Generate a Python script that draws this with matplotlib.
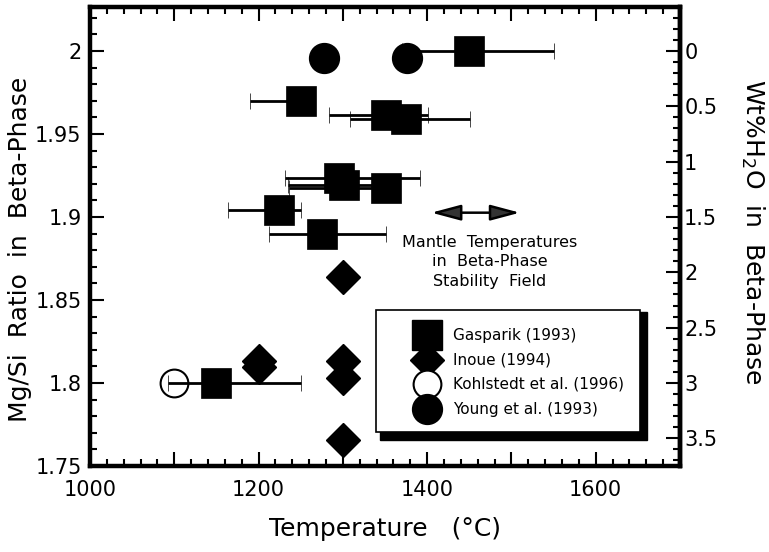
import matplotlib
matplotlib.use('Agg')
import matplotlib.pyplot as plt
import numpy as np
from matplotlib.patches import Rectangle
from matplotlib.ticker import MultipleLocator, FuncFormatter

# Gasparik (1993): temperature, Mg/Si ratio, error bar (minus / plus) in degC
gas_T = [1450, 1250, 1351, 1375, 1296, 1301, 1351, 1224, 1275, 1150]
gas_ratio = [2.000, 1.970, 1.9613, 1.9589, 1.9235, 1.9195, 1.9177, 1.9044, 1.8898, 1.800]
gas_err_lo = [80, 60, 67, 67, 65, 66, 115, 60, 63, 57]
gas_err_hi = [100, 0, 50, 76, 95, 50, 0, 26, 76, 100]

# Inoue (1994)
inoue_T = [1300, 1200, 1200, 1300, 1300, 1300]
inoue_ratio = [1.864, 1.8133, 1.8096, 1.8133, 1.8028, 1.7657]

# Kohlstedt et al. (1996)
kohl_T = [1100]
kohl_ratio = [1.800]

# Young et al. (1993)
young_T = [1278, 1376]
young_ratio = [1.996, 1.996]

legend_labels = ['Gasparik (1993)', 'Inoue (1994)',
                 'Kohlstedt et al. (1996)', 'Young et al. (1993)']

# mantle temperature range (arrow)
mantle_T = [1405, 1510]
mantle_ratio = 1.9026

water_ticks = [0, 0.5, 1, 1.5, 2, 2.5, 3, 3.5]


def ratio_to_water(r):
    return 15.0 * (2.0 - np.asarray(r))


def water_to_ratio(w):
    return 2.0 - np.asarray(w) / 15.0


def fmt_g(v, pos):
    return f'{v:g}'


def fmt_x(v, pos):
    return f'{v:.0f}' if int(round(v)) % 200 == 0 else ''


def plot():
    W, H = 769, 552
    fig = plt.figure(figsize=(W / 100, H / 100), dpi=100)
    ax = fig.add_axes([90 / W, 86 / H, 590 / W, 459 / H])
    ax.set_xlim(1000, 1700)
    ax.set_ylim(1.75, 2.0265)

    ax.plot(kohl_T, kohl_ratio, 'o', ms=20, mfc='white', mec='black', mew=1.5, zorder=2)
    ax.errorbar(gas_T, gas_ratio, xerr=[gas_err_lo, gas_err_hi], fmt='s', ms=22,
                mfc='black', mec='black', mew=0.5, ecolor='black', elinewidth=2,
                capsize=5.5, capthick=2.2, zorder=3)
    ax.plot(inoue_T, inoue_ratio, 'D', ms=17, color='black', zorder=3)
    ax.plot(young_T, young_ratio, 'o', ms=21.5, color='black', zorder=4)

    # mantle temperature arrow + text
    ax.annotate('', xy=(mantle_T[1], mantle_ratio), xytext=(mantle_T[0], mantle_ratio),
                arrowprops=dict(arrowstyle='<|-|>,head_length=0.9,head_width=0.24',
                                mutation_scale=20, fc='#333333', ec='black', lw=1.8,
                                shrinkA=0, shrinkB=0))
    ax.text(1474, 1.873, 'Mantle  Temperatures\nin  Beta-Phase\nStability  Field',
            ha='center', va='center', fontsize=11.5, linespacing=1.35)

    # axes styling
    for s in ax.spines.values():
        s.set_linewidth(3.2)
    ax.xaxis.set_major_locator(MultipleLocator(100))
    ax.xaxis.set_minor_locator(MultipleLocator(20))
    ax.xaxis.set_major_formatter(FuncFormatter(fmt_x))
    ax.yaxis.set_major_locator(MultipleLocator(0.05))
    ax.yaxis.set_minor_locator(MultipleLocator(0.01))
    ax.yaxis.set_major_formatter(FuncFormatter(fmt_g))
    ax.tick_params(which='both', direction='in', top=True, right=False, width=1.5)
    ax.tick_params(which='major', length=10, labelsize=15)
    ax.tick_params(which='minor', length=5)
    ax.tick_params(axis='x', pad=10)
    ax.tick_params(axis='y', pad=6)

    sec = ax.secondary_yaxis('right', functions=(ratio_to_water, water_to_ratio))
    sec.set_yticks(water_ticks)
    sec.yaxis.set_minor_locator(MultipleLocator(0.1))
    sec.yaxis.set_major_formatter(FuncFormatter(fmt_g))
    sec.tick_params(which='both', direction='in', width=1.5)
    sec.tick_params(which='major', length=10, labelsize=15, pad=3)
    sec.tick_params(which='minor', length=5)
    sec.spines['right'].set_linewidth(3.2)

    ax.set_xlabel('Temperature   (°C)', fontsize=18)
    ax.xaxis.set_label_coords(0.5, -0.112)
    fig.text(20 / W, 1 - 249 / H, 'Mg/Si  Ratio  in  Beta-Phase', rotation=90,
             ha='center', va='center', fontsize=18)
    fig.text(753 / W, 1 - 232 / H, r'Wt%H$_2$O  in  Beta-Phase', rotation=-90,
             ha='center', va='center', fontsize=18)

    # hand-made legend box with drop shadow (axes fraction)
    x0, y0, bw, bh = 0.4847, 0.0741, 0.4475, 0.2658
    px, py = 1 / 590, 1 / 459
    ax.add_patch(Rectangle((x0 + 4 * px, y0 - 8 * py), bw + 3 * px, bh + 6 * py,
                           transform=ax.transAxes, fc='black', ec='black', zorder=5))
    ax.add_patch(Rectangle((x0, y0), bw, bh, transform=ax.transAxes,
                           fc='white', ec='black', lw=1.2, zorder=6))
    styles = [dict(marker='s', ms=22, mfc='black', mec='black'),
              dict(marker='D', ms=17, mfc='black', mec='black'),
              dict(marker='o', ms=20, mfc='white', mec='black', mew=1.5),
              dict(marker='o', ms=21.5, mfc='black', mec='black')]
    row_y = 0.2854 - np.arange(4) * 0.0538
    for i, lab in enumerate(legend_labels):
        ax.plot([0.5712], [row_y[i]], linestyle='none', transform=ax.transAxes,
                zorder=7 + i * 0.01, clip_on=False, **styles[i])
        ax.text(0.6153, row_y[i], lab, transform=ax.transAxes, va='center',
                fontsize=11, zorder=8)

    fig.savefig('out.png', dpi=100)


if __name__ == '__main__':
    plot()
